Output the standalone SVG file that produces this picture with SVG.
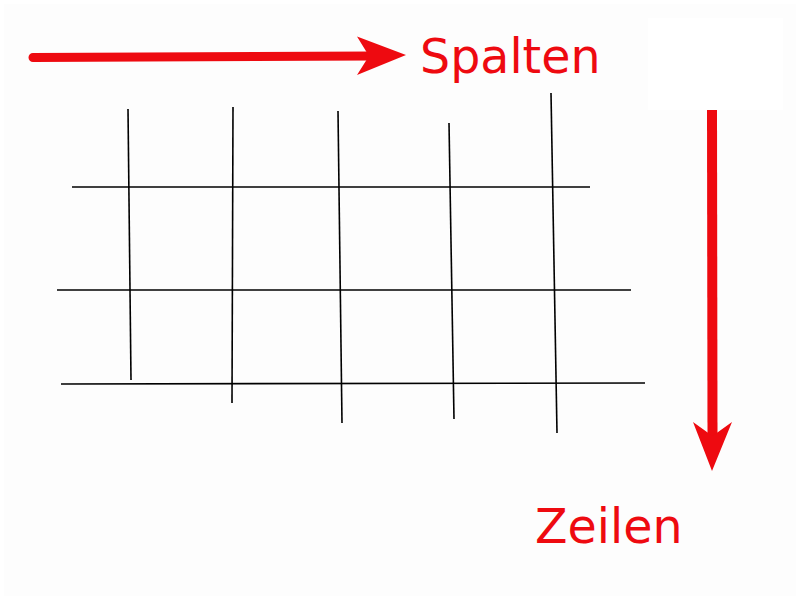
<svg xmlns="http://www.w3.org/2000/svg" width="800" height="600" viewBox="0 0 800 600">
<style>
.grid{stroke:#000;stroke-width:1.6;fill:none}
.arrow{stroke:#ee0a10;fill:none}
.head{fill:#ee0a10;stroke:none}
.lbl{font-family:"DejaVu Sans",sans-serif;font-size:47.5px;fill:#ee0a10}
</style>
<rect x="0" y="0" width="800" height="600" fill="#ffffff"/>
<rect x="4" y="4" width="792" height="592" fill="#fdfdfd"/>
<rect x="648" y="18" width="135" height="92" fill="#ffffff"/>
<g id="grid">
<line class="grid" x1="128" y1="109" x2="131" y2="380"/>
<line class="grid" x1="233" y1="107" x2="232" y2="403"/>
<line class="grid" x1="338" y1="111" x2="342" y2="423"/>
<line class="grid" x1="449" y1="123" x2="454" y2="419"/>
<line class="grid" x1="551" y1="93" x2="557" y2="433"/>
<line class="grid" x1="72" y1="187" x2="590" y2="187"/>
<line class="grid" x1="57" y1="290" x2="631" y2="290"/>
<line class="grid" x1="61" y1="384" x2="645" y2="383"/>
</g>
<g id="connectors">
<line class="arrow" x1="33" y1="57.5" x2="372" y2="56" stroke-width="9" stroke-linecap="round"/>
<polygon class="head" points="406,55 357,36.5 369,56 357,75"/>
<line class="arrow" x1="712" y1="110" x2="712.5" y2="440" stroke-width="10"/>
<polygon class="head" points="712,471 693,422 712.5,436 732,422"/>
</g>
<g id="spalten"><text class="lbl" x="420" y="73">Spalten</text></g>
<g id="zeilen"><text class="lbl" x="535" y="543">Zeilen</text></g>
</svg>
